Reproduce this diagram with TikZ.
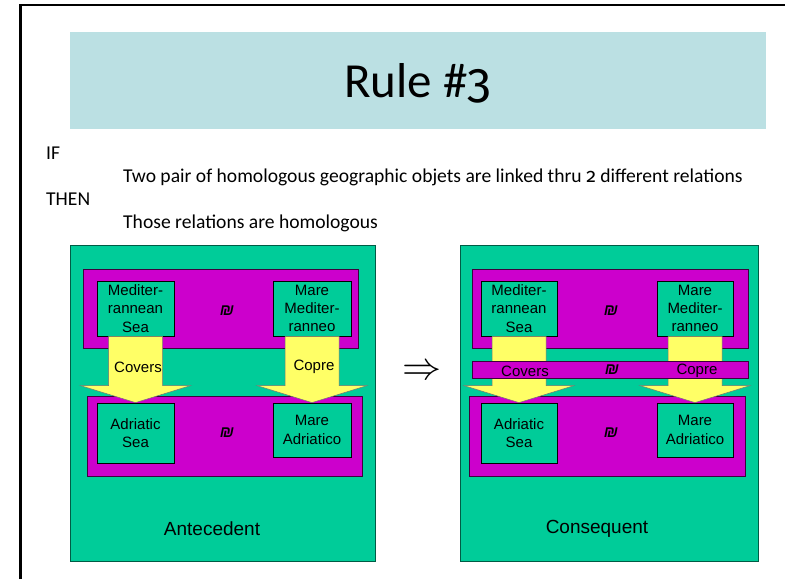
\documentclass[tikz,border=0pt]{standalone}
\usepackage{fontspec}
\setmainfont{Carlito}
\newfontfamily\figfont{Fira Sans}[Numbers=OldStyle]
\newfontfamily\arialfont{Liberation Sans}
\usepackage{xcolor}
\definecolor{colorTitle}{HTML}{BBE0E3}
\definecolor{colorPanel}{HTML}{00CC99}
\definecolor{colorGroup}{HTML}{CC00CC}
\definecolor{colorRelation}{HTML}{FFFF66}
\usetikzlibrary{calc, positioning}
\tikzset{
  panel/.style={fill=colorPanel, draw=colorPanel!45!black, line width=0.8pt},
  group/.style={fill=colorGroup, draw=colorGroup!30!black, line width=0.8pt},
  place/.style={fill=colorPanel, draw=black, line width=0.8pt, inner sep=0pt, align=center,
    font=\arialfont\fontsize{15}{18.3}\selectfont},
  relation/.style={fill=colorRelation, draw=black!55, line width=0.5pt},
  label/.style={inner sep=0pt, font=\arialfont\fontsize{15}{18}\selectfont},
  homolog/.style={inner sep=0pt, font=\arialfont\itshape\bfseries\fontsize{16}{18}\selectfont},
  caption/.style={inner sep=0pt, font=\arialfont\fontsize{19}{23}\selectfont},
  body/.style={inner sep=0pt, anchor=base west, font=\fontsize{19.6}{24}\selectfont}
}
\newcommand{\relarrow}[2]{%
  \filldraw[relation] ($(#1.south)+(-27,0)$) -- ($(#1.south)+(27,0)$)
    -- ($(#2.north)+(27,-17)$) -- ($(#2.north)+(55,-17)$) -- (#2.north)
    -- ($(#2.north)+(-55,-17)$) -- ($(#2.north)+(-27,-17)$) -- cycle;}

\begin{document}
\begin{tikzpicture}[x=1pt, y=-1pt]
\useasboundingbox[fill=white] (0,0) rectangle (785,579);
\draw[line width=2.5pt] (20.5,579) -- (20.5,5) -- (785,5);
\fill[colorTitle] (70,32) rectangle (766,129);
\node[inner sep=0pt, anchor=base, font=\fontsize{49}{60}\selectfont] (title) at (418,97) {Rule \#{\figfont 3}};
\node[body] (if) at (46,159) {IF};
\node[body] (premise) at (123,182) {Two pair of homologous geographic objets are linked thru {\figfont 2} different relations};
\node[body] (then) at (46,205) {THEN};
\node[body] (conclusion) at (123,228) {Those relations are homologous};

\draw[panel] (70,245) rectangle (375,561);
\draw[group] (83,269) rectangle (358,348);
\draw[group] (87,396) rectangle (362,476);
\node[place, minimum width=77, minimum height=55] (medA) at (135.5,308.5) {Mediter-\\rannean\\Sea};
\node[place, minimum width=78, minimum height=55] (mareMedA) at (312,308.5) {Mare\\Mediter-\\ranneo};
\node[place, minimum width=77, minimum height=60] (adrA) at (135.5,433) {Adriatic\\Sea};
\node[place, minimum width=78, minimum height=54] (mareAdrA) at (312,430) {Mare\\Adriatico};
\node[homolog] (homTopA) at (227,311) {₪};
\node[homolog] (homBotA) at (227,433) {₪};
\relarrow{medA}{adrA}
\relarrow{mareMedA}{mareAdrA}
\node[label] (coversA) at (138,367) {Covers};
\node[label] (copreA) at (314,367) {Copre};
\node[caption] (ante) at (212,529) {Antecedent};

\node[inner sep=0pt] (implies) at (422,372) {\scalebox{3.9}{$\Rightarrow$}};

\draw[panel] (460,245) rectangle (758,561);
\draw[group] (472,269) rectangle (748,348);
\draw[group] (469,396) rectangle (745,476);
\node[place, minimum width=76, minimum height=55] (medC) at (519,308.5) {Mediter-\\rannean\\Sea};
\node[place, minimum width=76, minimum height=55] (mareMedC) at (695,308.5) {Mare\\Mediter-\\ranneo};
\node[place, minimum width=76, minimum height=60] (adrC) at (519,433) {Adriatic\\Sea};
\node[place, minimum width=76, minimum height=54] (mareAdrC) at (695,430) {Mare\\Adriatico};
\node[homolog] (homTopC) at (611,311) {₪};
\node[homolog] (homBotC) at (611,433) {₪};
\relarrow{medC}{adrC}
\relarrow{mareMedC}{mareAdrC}
\draw[group] (472,361) rectangle (748,378);
\node[label] (coversC) at (525,371) {Covers};
\node[homolog] (homMidC) at (612,370) {₪};
\node[label] (copreC) at (697,371) {Copre};
\node[caption] (cons) at (597,529) {Consequent};
\end{tikzpicture}
\end{document}
